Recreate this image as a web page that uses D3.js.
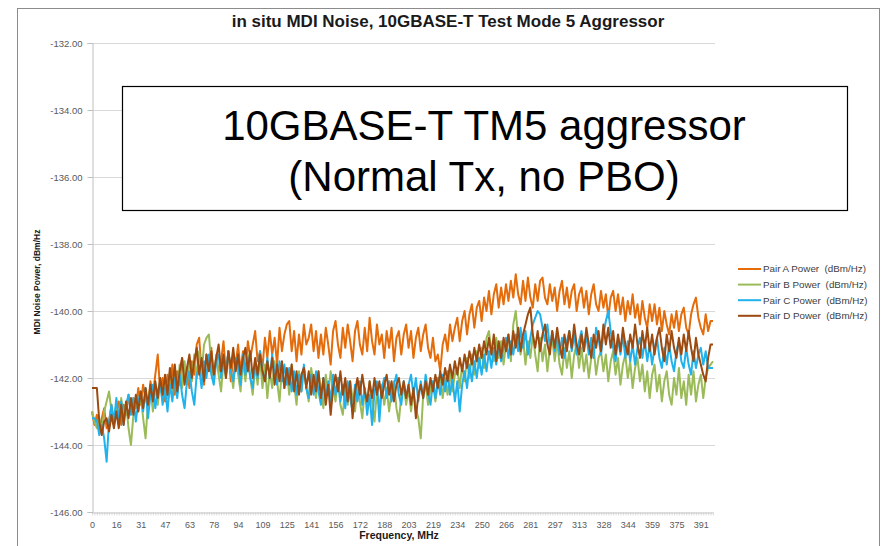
<!DOCTYPE html>
<html>
<head>
<meta charset="utf-8">
<script src="https://cdn.jsdelivr.net/npm/d3@7"></script>
<style>
  html, body { margin: 0; padding: 0; background: #fff; }
  svg { display: block; font-family: "Liberation Sans", Arial, sans-serif; }
</style>
</head>
<body>
<svg id="chart" width="884" height="546"></svg>
<script>
// ---------------- DATA ----------------
const chartTitle = "in situ MDI Noise, 10GBASE-T Test Mode 5 Aggressor";
const yAxisTitle = "MDI Noise Power, dBm/Hz";
const xAxisTitle = "Frequency, MHz";
const boxLines = ["10GBASE-T TM5 aggressor", "(Normal Tx, no PBO)"];
const freqStep = 1.5625; // MHz per bin
const categories = d3.range(256).map(i => i * freqStep);
const xTickLabels = ["0","16","31","47","63","78","94","109","125","141","156","172","188","203","219","234","250","266","281","297","313","328","344","359","375","391"];
const yTicks = [-146, -144, -142, -140, -138, -136, -134, -132];
const seriesNames = ["Pair A Power  (dBm/Hz)", "Pair B Power  (dBm/Hz)", "Pair C Power  (dBm/Hz)", "Pair D Power  (dBm/Hz)"];

const pairA = [
-143.0,-143.4,-143.1,-143.6,-143.2,-142.9,-143.5,-143.3,-142.8,-143.4,
-143.0,-142.7,-143.4,-142.8,-143.1,-142.5,-143.0,-142.6,-142.9,-142.3,
-142.8,-142.2,-142.6,-142.9,-142.1,-142.5,-141.9,-141.3,-142.4,-142.0,
-142.7,-141.9,-142.3,-141.6,-142.5,-141.8,-142.2,-141.4,-142.0,-141.7,
-142.3,-141.5,-141.9,-141.0,-140.8,-141.8,-142.2,-141.3,-141.7,-141.1,
-142.0,-141.4,-141.8,-141.5,-140.9,-141.9,-141.2,-142.1,-141.4,-141.6,
-141.0,-141.8,-141.2,-141.9,-140.9,-141.4,-141.0,-140.6,-141.5,-141.2,
-141.7,-140.8,-141.4,-140.6,-141.3,-140.8,-141.6,-140.5,-141.2,-140.7,
-140.4,-140.3,-141.2,-140.6,-141.5,-140.7,-141.3,-140.4,-141.0,-140.8,
-140.4,-141.2,-140.6,-141.4,-140.7,-141.3,-140.5,-141.0,-141.6,-140.6,
-140.3,-141.0,-141.4,-140.5,-141.1,-140.4,-140.9,-141.5,-140.6,-140.3,
-141.0,-141.3,-140.5,-141.2,-140.2,-140.9,-141.3,-140.4,-141.0,-140.7,
-141.4,-140.6,-141.1,-140.5,-141.5,-140.8,-140.6,-141.3,-140.7,-140.4,
-141.1,-140.6,-141.4,-140.8,-140.5,-141.2,-140.7,-140.4,-141.1,-141.4,
-140.8,-141.5,-141.3,-141.8,-141.0,-140.7,-141.2,-140.4,-140.9,-140.5,
-140.2,-140.9,-140.3,-140.0,-140.7,-140.1,-139.8,-140.5,-139.9,-139.7,
-140.3,-139.6,-140.0,-139.4,-140.1,-139.5,-139.2,-139.9,-139.3,-139.8,
-139.2,-139.7,-139.1,-139.6,-138.9,-139.5,-139.8,-139.1,-139.7,-139.0,
-139.6,-139.9,-139.2,-139.7,-139.1,-139.0,-139.6,-139.8,-139.2,-139.7,
-139.3,-140.0,-139.4,-139.1,-139.8,-139.3,-139.9,-139.4,-139.2,-140.0,
-139.5,-139.3,-139.9,-139.4,-140.1,-139.5,-139.2,-139.8,-140.0,-139.4,
-139.9,-139.5,-140.2,-139.6,-139.4,-140.0,-139.5,-140.1,-139.6,-140.3,
-139.7,-140.1,-139.5,-140.2,-139.8,-140.4,-139.7,-140.2,-140.5,-139.8,
-140.3,-139.8,-140.4,-139.9,-140.6,-140.0,-140.4,-140.7,-140.1,-140.5,
-140.0,-140.6,-140.1,-139.9,-140.5,-140.7,-140.1,-139.8,-139.6,-140.2,
-140.5,-140.7,-140.1,-140.6,-140.3,-140.3
];
const pairB = [
-143.0,-143.3,-143.5,-143.2,-143.6,-143.0,-142.7,-142.4,-143.0,-143.4,
-142.8,-143.4,-142.6,-143.2,-142.7,-143.5,-144.0,-143.1,-142.6,-143.0,
-142.5,-143.2,-143.8,-142.7,-142.3,-143.0,-142.2,-142.8,-142.1,-142.7,
-142.0,-142.6,-141.8,-142.5,-141.7,-142.4,-141.6,-142.3,-141.5,-142.2,
-141.4,-142.1,-141.3,-142.0,-141.2,-141.9,-141.0,-140.8,-140.7,-141.6,
-142.1,-141.3,-141.9,-142.4,-141.5,-142.0,-141.2,-141.8,-142.3,-141.4,
-141.9,-142.4,-141.5,-142.1,-141.3,-142.0,-142.5,-141.6,-142.2,-141.4,
-142.3,-141.6,-142.6,-141.8,-142.3,-141.5,-142.1,-142.7,-141.7,-142.3,
-141.8,-142.5,-141.6,-142.2,-142.8,-141.8,-142.4,-141.7,-142.3,-142.7,
-141.7,-142.2,-142.6,-141.8,-142.4,-142.9,-141.9,-142.5,-141.8,-142.3,
-142.7,-142.0,-142.8,-143.1,-142.2,-142.8,-142.1,-142.6,-143.0,-142.2,
-142.7,-143.2,-142.3,-142.8,-142.1,-142.7,-143.3,-142.4,-142.9,-142.2,
-142.8,-142.3,-143.0,-142.4,-142.1,-142.9,-143.3,-142.5,-142.2,-142.8,
-142.3,-143.0,-142.4,-142.9,-143.2,-143.8,-142.5,-142.2,-142.8,-142.3,
-142.1,-142.7,-142.2,-141.9,-142.6,-142.0,-142.5,-141.8,-142.4,-141.9,
-141.7,-142.3,-141.6,-142.1,-141.4,-142.0,-141.3,-141.9,-141.2,-141.7,
-141.1,-141.7,-140.8,-140.6,-141.2,-141.5,-140.8,-141.4,-140.9,-141.6,
-141.0,-140.7,-141.5,-140.4,-140.0,-140.8,-141.3,-140.8,-141.6,-140.9,
-141.4,-140.7,-141.3,-141.8,-140.8,-141.5,-141.0,-141.8,-141.1,-140.8,
-141.5,-140.9,-141.6,-141.9,-141.1,-141.7,-141.2,-142.0,-141.3,-141.0,
-141.7,-141.1,-141.8,-141.3,-142.0,-141.4,-141.1,-141.9,-141.4,-141.2,
-141.8,-141.3,-142.1,-141.5,-141.2,-141.9,-141.4,-142.2,-141.6,-141.3,
-142.0,-141.5,-142.3,-141.7,-141.4,-142.1,-141.6,-142.4,-141.8,-142.6,
-141.9,-141.6,-142.4,-141.9,-142.7,-142.1,-141.8,-142.5,-142.8,-142.0,
-142.5,-141.7,-142.6,-142.1,-142.8,-141.9,-142.5,-141.8,-142.7,-142.2,
-141.9,-142.6,-142.0,-141.7,-141.6,-141.5
];
const pairC = [
-143.2,-143.2,-143.3,-143.7,-143.4,-143.8,-144.5,-143.3,-142.8,-143.3,
-142.6,-143.2,-142.7,-143.4,-142.8,-142.5,-143.1,-142.6,-143.3,-142.7,
-142.4,-143.0,-142.3,-143.2,-142.5,-142.2,-142.9,-142.4,-142.1,-142.8,
-142.3,-143.0,-142.2,-142.7,-142.0,-142.6,-141.9,-142.5,-142.9,-142.1,
-141.8,-142.4,-142.8,-141.9,-141.7,-142.3,-141.5,-142.0,-141.3,-141.9,
-142.2,-141.5,-141.3,-142.0,-141.4,-141.9,-141.2,-141.8,-142.1,-141.4,
-141.6,-142.2,-141.3,-141.9,-141.4,-142.0,-142.3,-141.5,-142.0,-141.2,
-141.8,-142.1,-141.4,-142.0,-141.3,-141.9,-142.2,-141.5,-142.1,-141.6,
-142.2,-141.7,-142.4,-141.8,-142.5,-141.9,-142.4,-141.6,-142.3,-142.6,
-141.9,-142.5,-141.8,-142.4,-142.8,-142.0,-142.6,-142.1,-142.7,-141.9,
-142.5,-142.0,-142.7,-142.2,-142.9,-142.1,-142.6,-143.0,-142.2,-142.7,
-142.1,-142.8,-142.3,-143.1,-142.5,-143.4,-142.4,-142.1,-143.3,-142.3,
-142.0,-142.6,-142.1,-142.7,-142.2,-141.9,-142.5,-142.8,-142.1,-142.6,
-142.2,-141.9,-142.5,-142.0,-142.7,-142.1,-142.6,-141.9,-142.4,-142.8,
-142.1,-142.6,-142.0,-142.5,-141.9,-142.4,-141.8,-142.5,-142.0,-142.7,
-142.1,-143.0,-142.2,-141.8,-142.3,-141.6,-142.1,-141.5,-142.0,-141.4,
-141.9,-141.3,-141.8,-141.2,-141.7,-141.1,-141.6,-141.0,-141.5,-141.1,
-140.8,-141.4,-140.9,-141.3,-140.7,-141.2,-140.5,-141.1,-140.6,-141.3,
-140.8,-140.4,-140.2,-140.0,-140.1,-140.5,-140.9,-140.4,-141.1,-140.6,
-141.2,-140.7,-141.3,-140.8,-141.4,-140.9,-140.6,-141.2,-140.7,-141.3,
-140.9,-140.6,-141.2,-140.7,-141.3,-140.8,-141.4,-140.5,-140.8,-141.3,
-140.7,-140.3,-140.0,-140.6,-141.1,-141.5,-140.8,-141.3,-140.7,-141.4,
-140.9,-141.5,-141.0,-141.6,-141.1,-140.8,-141.4,-140.9,-141.5,-141.0,
-141.6,-141.1,-140.8,-141.4,-141.7,-141.1,-141.6,-141.0,-141.5,-141.8,
-141.2,-140.9,-141.5,-141.7,-141.1,-141.6,-141.9,-141.2,-141.7,-141.3,
-141.1,-141.6,-141.2,-141.7,-141.7,-141.7
];
const pairD = [
-142.3,-142.3,-142.3,-143.3,-143.7,-143.3,-143.2,-143.6,-143.1,-143.5,
-143.0,-143.5,-142.8,-143.4,-142.7,-143.2,-142.6,-143.1,-142.5,-143.0,
-142.4,-142.9,-142.3,-142.8,-142.2,-142.7,-142.1,-142.6,-142.0,-142.5,
-141.9,-142.5,-141.7,-142.3,-141.6,-142.4,-141.8,-141.4,-142.2,-141.7,
-141.3,-142.0,-141.5,-141.1,-141.9,-141.4,-142.1,-141.3,-141.8,-141.2,
-141.9,-141.4,-141.0,-141.8,-141.3,-142.0,-141.2,-141.7,-141.1,-141.8,
-141.3,-141.9,-141.4,-141.1,-141.8,-141.2,-142.0,-141.4,-141.9,-141.3,
-141.8,-142.1,-141.5,-142.0,-141.4,-142.2,-141.6,-142.1,-141.5,-142.3,
-141.7,-142.2,-141.6,-142.4,-141.8,-142.5,-141.9,-141.7,-142.3,-141.8,
-142.5,-141.9,-142.4,-141.8,-142.6,-142.0,-142.8,-142.2,-143.1,-142.3,
-141.9,-142.4,-141.8,-142.5,-142.0,-142.7,-142.1,-143.2,-142.4,-142.0,
-142.5,-141.9,-142.4,-142.7,-142.1,-142.6,-142.0,-142.5,-142.1,-142.6,
-142.2,-141.9,-142.5,-142.1,-142.7,-142.2,-142.0,-142.5,-142.1,-142.6,
-142.2,-142.8,-142.3,-143.2,-142.5,-142.2,-142.6,-142.1,-142.5,-142.0,
-142.4,-141.9,-142.3,-141.8,-142.2,-141.7,-142.1,-141.6,-142.0,-141.5,
-141.9,-141.4,-141.8,-141.3,-141.7,-141.2,-141.6,-141.1,-141.5,-141.0,
-141.4,-140.9,-141.3,-140.8,-141.3,-140.7,-141.5,-140.9,-141.4,-140.8,
-141.2,-140.7,-141.3,-140.6,-141.1,-140.5,-141.2,-140.7,-140.4,-140.1,
-139.9,-140.7,-141.1,-140.6,-141.2,-140.7,-140.4,-141.0,-141.3,-140.6,
-141.1,-140.5,-141.0,-141.4,-140.7,-141.2,-140.6,-141.1,-140.4,-141.0,
-141.3,-140.7,-141.2,-140.5,-141.0,-141.4,-140.7,-141.1,-140.6,-141.2,
-140.4,-141.0,-140.5,-141.1,-140.6,-141.3,-140.7,-141.2,-140.5,-141.0,
-141.3,-140.7,-141.1,-140.4,-141.0,-141.4,-140.6,-141.1,-140.5,-141.2,
-140.7,-141.3,-140.8,-140.5,-141.1,-141.5,-140.7,-141.2,-140.6,-141.1,
-141.4,-140.8,-141.3,-140.7,-141.2,-140.6,-141.1,-141.5,-140.8,-141.3,
-141.6,-141.9,-142.1,-141.4,-141.0,-141.0
];
const seriesColors = ["#E46C0A", "#9BBB59", "#1FB2EC", "#9C4A10"];
const seriesData = [pairA, pairB, pairC, pairD];

// ---------------- LAYOUT ----------------
const svg = d3.select("#chart");
const plot = { left: 92, right: 713, top: 43, bottom: 512 };

// outer frame
svg.append("rect").attr("x", 17.5).attr("y", 8.5).attr("width", 862).attr("height", 560)
  .attr("fill", "#fff").attr("stroke", "#8c8c8c").attr("stroke-width", 1);

const x = d3.scalePoint().domain(d3.range(categories.length)).range([plot.left, plot.right]);
const y = d3.scaleLinear().domain([-146, -132]).range([plot.bottom, plot.top]);

// gridlines
svg.append("g").selectAll("line").data(yTicks.filter(t => t !== -146)).join("line")
  .attr("x1", plot.left).attr("x2", plot.right + 2)
  .attr("y1", d => Math.round(y(d)) + 0.5).attr("y2", d => Math.round(y(d)) + 0.5)
  .attr("stroke", "#d9d9d9").attr("stroke-width", 1);

// y axis
const yAxis = d3.axisLeft(y).tickValues(yTicks).tickFormat(d => d.toFixed(2)).tickSize(5).tickPadding(5);
const gy = svg.append("g").attr("transform", `translate(${plot.left + 0.5},0)`).call(yAxis);
gy.select(".domain").attr("stroke", "#bfbfbf");
gy.selectAll(".tick line").attr("stroke", "#bfbfbf");
gy.selectAll(".tick text").attr("fill", "#595959").style("font-size", "9.5px")
  .style("font-family", "'Liberation Sans', Arial, sans-serif");

// x axis: minor ticks on every category, labels every 10
const xAxis = d3.axisBottom(x).tickValues(d3.range(0, categories.length)).tickSize(3).tickSizeOuter(0)
  .tickFormat(i => (i % 10 === 0 ? xTickLabels[i / 10] : ""));
const gx = svg.append("g").attr("transform", `translate(0,${Math.round(y(-146)) + 0.5})`).call(xAxis);
gx.select(".domain").attr("stroke", "#bfbfbf");
gx.selectAll(".tick line").attr("stroke", "#c8c8c8").attr("stroke-width", 0.6);
gx.selectAll(".tick text").attr("fill", "#595959").attr("dy", "1em").style("font-size", "9px")
  .style("font-family", "'Liberation Sans', Arial, sans-serif");

// series lines
const line = d3.line().x((d, i) => x(i)).y(d => y(d));
svg.append("g").selectAll("path").data(seriesData).join("path")
  .attr("d", d => line(d)).attr("fill", "none")
  .attr("stroke", (d, i) => seriesColors[i]).attr("stroke-width", 2)
  .attr("stroke-linejoin", "round");

// title
svg.append("text").attr("x", 448).attr("y", 27).attr("text-anchor", "middle")
  .style("font-weight", "bold").style("font-size", "17px").attr("fill", "#1a1a1a").text(chartTitle);

// axis titles
svg.append("text").attr("transform", "translate(40,282) rotate(-90)").attr("text-anchor", "middle")
  .style("font-weight", "bold").style("font-size", "8.5px").attr("fill", "#1a1a1a").text(yAxisTitle);
svg.append("text").attr("x", 399).attr("y", 539).attr("text-anchor", "middle")
  .style("font-weight", "bold").style("font-size", "10.5px").attr("fill", "#1a1a1a").text(xAxisTitle);

// legend
const lg = svg.append("g").selectAll("g").data(seriesNames).join("g")
  .attr("transform", (d, i) => `translate(738,${269 + i * 15.6})`);
lg.append("line").attr("x1", 0).attr("x2", 23).attr("y1", 0).attr("y2", 0)
  .attr("stroke", (d, i) => seriesColors[i]).attr("stroke-width", 2);
lg.append("text").attr("x", 25).attr("y", 3.4).style("font-size", "9.8px").style("white-space", "pre")
  .attr("fill", "#404040").text(d => d);

// annotation box
svg.append("rect").attr("x", 122.5).attr("y", 86.5).attr("width", 725).attr("height", 124)
  .attr("fill", "#fff").attr("stroke", "#000").attr("stroke-width", 1.2);
svg.append("g").selectAll("text").data(boxLines).join("text")
  .attr("x", 484).attr("y", (d, i) => 140 + i * 51).attr("text-anchor", "middle")
  .style("font-size", "42px").attr("fill", "#000").text(d => d);
</script>
</body>
</html>
